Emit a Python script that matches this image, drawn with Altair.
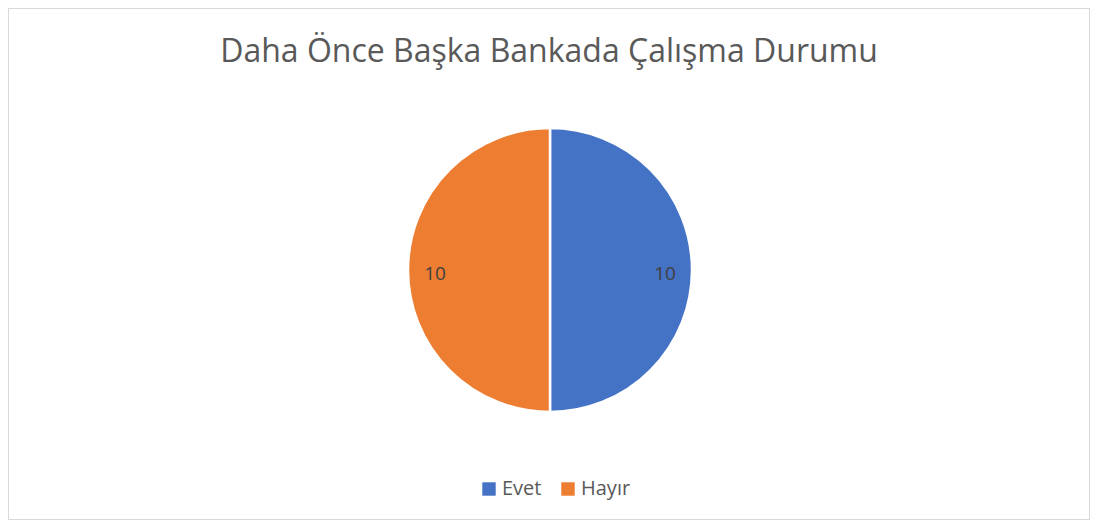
import altair as alt
import pandas as pd

categories = ["Evet", "Hayır"]
values = [10, 10]
colors = ["#4472C4", "#ED7D31"]

df = pd.DataFrame({"category": categories, "value": values, "order": [0, 1]})

FONT = "Open Sans"

base = alt.Chart(df).encode(
    theta=alt.Theta("value:Q", stack=True),
    order=alt.Order("order:Q"),
    x=alt.value(542),
    y=alt.value(262),
)

pie = base.mark_arc(outerRadius=142, stroke="white", strokeWidth=2.5).encode(
    color=alt.Color(
        "category:N",
        scale=alt.Scale(domain=categories, range=colors),
        sort=categories,
        legend=alt.Legend(
            title=None,
            orient="none",
            legendX=471,
            legendY=471,
            direction="horizontal",
            symbolType="square",
            symbolSize=180,
            symbolStrokeWidth=0,
            labelFont=FONT,
            labelFontSize=20,
            labelColor="#595959",
            columnPadding=16,
            labelOffset=3,
        ),
    )
)

labels = base.mark_text(radius=115, dy=4, font=FONT, fontSize=19, color="#404040").encode(
    text=alt.Text("value:Q")
)

chart = (
    alt.layer(pie, labels)
    .properties(
        width=1082,
        height=512,
        background="white",
        padding=0,
        title=alt.TitleParams(
            "Daha Önce Başka Bankada Çalışma Durumu",
            font=FONT,
            fontSize=32,
            fontWeight="normal",
            color="#595959",
            anchor="middle",
            orient="top",
            offset=-61,
        ),
    )
    .configure_view(stroke="#d9d9d9", strokeWidth=2)
)

chart.save("out.html", embed_options={"renderer": "svg", "actions": False})
